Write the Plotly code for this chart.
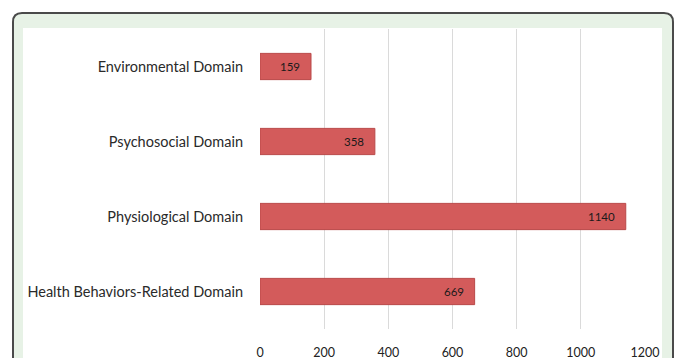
import plotly.graph_objects as go

categories = ["Environmental Domain", "Psychosocial Domain", "Physiological Domain", "Health Behaviors-Related Domain"]
values = [159, 358, 1140, 669]
tick_vals = [0, 200, 400, 600, 800, 1000, 1200]

W, H = 677, 358
L, R, T, B = 260, 645, 29, 329  # plot area pixels

def px(x):
    return (x - L) / (R - L)

def py(y):
    return (B - y) / (B - T)

def rounded_path(x0, y0, x1, y1, r):
    rx = r / (R - L)
    ry = r / (B - T)
    X0, X1 = px(x0), px(x1)
    Y0, Y1 = py(y0), py(y1)
    return (f"M {X0+rx} {Y0} L {X1-rx} {Y0} Q {X1} {Y0} {X1} {Y0-ry} "
            f"L {X1} {Y1+ry} Q {X1} {Y1} {X1-rx} {Y1} L {X0+rx} {Y1} "
            f"Q {X0} {Y1} {X0} {Y1+ry} L {X0} {Y0-ry} Q {X0} {Y0} {X0+rx} {Y0} Z")

fig = go.Figure()
fig.add_trace(go.Bar(
    y=categories, x=values, orientation="h",
    marker=dict(color="#D35B5B", line=dict(color="#B94848", width=1)),
    hoverinfo="skip",
))

annotations = [
    dict(x=v, y=c, xref="x", yref="y", text=str(v), showarrow=False,
         xanchor="right", xshift=-9, font=dict(family="Lato", size=11.5, color="#1a1a1a"))
    for c, v in zip(categories, values)
]

shapes = [
    dict(type="path", xref="paper", yref="paper", layer="below",
         path=rounded_path(13, 13, 673, 380, 9),
         fillcolor="#E7F2E6", line=dict(color="#4A4A4A", width=2)),
    dict(type="rect", xref="paper", yref="paper", layer="below",
         x0=px(23), x1=px(662), y0=py(400), y1=py(28),
         fillcolor="white", line=dict(width=0)),
]

fig.update_layout(
    width=W, height=H,
    margin=dict(l=L, r=W - R, t=T, b=H - B, pad=0),
    paper_bgcolor="white", plot_bgcolor="rgba(0,0,0,0)",
    bargap=0.65, showlegend=False,
    shapes=shapes, annotations=annotations,
    xaxis=dict(range=[0, 1200], tickvals=tick_vals, showgrid=True,
               gridcolor="#DADADA", gridwidth=1, zeroline=False,
               showline=False, ticks="", ticklabelstandoff=14, automargin=False,
               tickfont=dict(family="Lato", size=12.5, color="#222")),
    yaxis=dict(autorange="reversed", showgrid=False, zeroline=False,
               showline=False, ticks="", ticklabelstandoff=16, automargin=False,
               tickfont=dict(family="Lato", size=14.5, color="#2a2a2a")),
)

fig.write_html("out.html")
